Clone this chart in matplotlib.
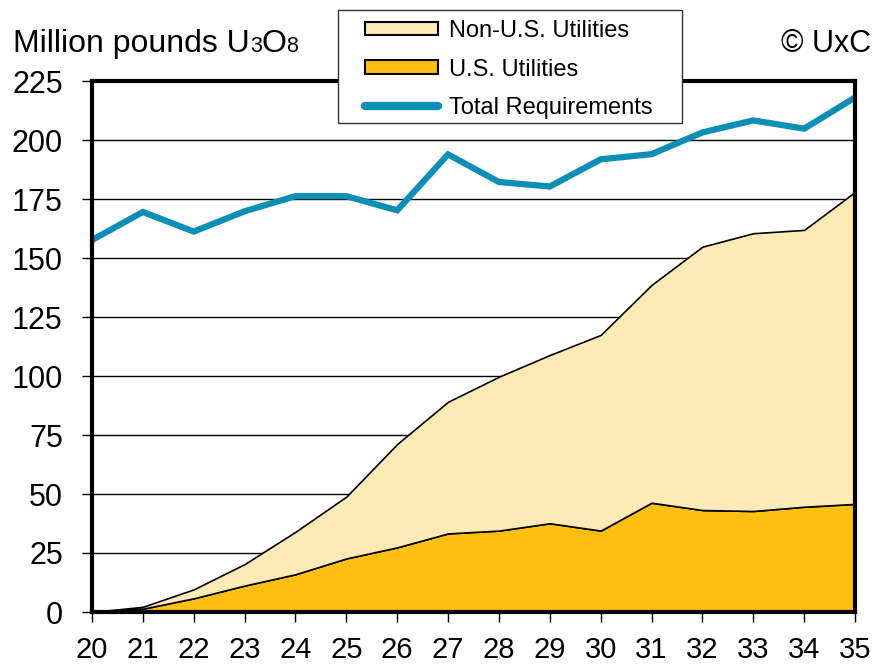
import matplotlib
matplotlib.use("Agg")
import matplotlib.pyplot as plt
from matplotlib.patches import Patch, Rectangle
from matplotlib.lines import Line2D

plt.rcParams["font.family"] = ["Liberation Sans", "DejaVu Sans"]

# Data (years 2020-2035, million lb U3O8)
years = [20, 21, 22, 23, 24, 25, 26, 27, 28, 29, 30, 31, 32, 33, 34, 35]
us_utilities = [0, 1.4, 5.8, 11.2, 16.0, 22.7, 27.4, 33.3, 34.5, 37.6, 34.5, 46.3, 43.2, 42.8, 44.6, 45.8]
total_uncovered = [0, 2.2, 9.6, 20.3, 34.0, 48.9, 71.2, 89.1, 99.7, 108.9, 117.4, 138.6, 154.8, 160.5, 161.9, 178.0]
non_us_utilities = [t - u for t, u in zip(total_uncovered, us_utilities)]
total_requirements = [157.6, 169.5, 161.2, 169.8, 176.2, 176.2, 170.2, 193.9, 182.2, 180.3, 191.8, 194.0, 203.2, 208.3, 204.8, 218.0]
y_ticks = [0, 25, 50, 75, 100, 125, 150, 175, 200, 225]

gold = "#FDC010"
cream = "#FEEAB5"
blue = "#0C8FB6"

W, H = 877, 666
fig = plt.figure(figsize=(W / 100, H / 100), dpi=100)
ax = fig.add_axes([92 / W, 54 / H, 763 / W, 531 / H])

ax.stackplot(years, us_utilities, non_us_utilities, colors=[gold, cream],
             edgecolor="black", linewidth=1.2, zorder=2)
ax.plot(years, total_requirements, color=blue, linewidth=4.5, zorder=3,
        solid_joinstyle="miter")

ax.set_xlim(20, 35)
ax.set_ylim(0, 225)
ax.set_xticks(years)
ax.set_yticks(y_ticks)
ax.grid(axis="y", color="black", linewidth=1.0)
ax.set_axisbelow(True)
ax.tick_params(axis="y", direction="out", length=7, width=1, pad=14, labelsize=22)
ax.tick_params(axis="x", direction="out", length=7, width=1, pad=10, labelsize=21)
for side in ["left", "right", "bottom", "top"]:
    ax.spines[side].set_linewidth(3)
    ax.spines[side].set_color("black")
    ax.spines[side].set_zorder(4)

# Legend box (drawn separately: wide side padding, narrow top/bottom)
frame = Rectangle((338 / W, 1 - 123 / H), 344 / W, 113 / H, transform=fig.transFigure,
                  facecolor="white", edgecolor="#333333", linewidth=1.0, zorder=9)
fig.add_artist(frame)

handles = [
    Patch(facecolor=cream, edgecolor="black", linewidth=1.5),
    Patch(facecolor=gold, edgecolor="black", linewidth=1.5),
    Line2D([0], [0], color=blue, linewidth=6, solid_capstyle="round"),
]
labels = ["Non-U.S. Utilities", "U.S. Utilities", "Total Requirements"]
leg = fig.legend(handles, labels, loc="upper left", bbox_to_anchor=(365 / W, 1 - 20 / H),
                 fontsize=17, handlelength=3.1, handleheight=0.5, handletextpad=0.45,
                 labelspacing=0.7, borderpad=0, borderaxespad=0, frameon=False)
leg.set_zorder(10)

# Unit label with small 3 and 8
base_y = 1 - 52 / H
t1 = fig.text(13 / W, base_y, "Million pounds U", fontsize=23, va="baseline", ha="left")
t2 = fig.text(0, base_y, "3", fontsize=15.5, va="baseline", ha="left")
t3 = fig.text(0, base_y, "O", fontsize=23, va="baseline", ha="left")
t4 = fig.text(0, base_y, "8", fontsize=15.5, va="baseline", ha="left")
fig.canvas.draw()
renderer = fig.canvas.get_renderer()
prev = t1
for t in [t2, t3, t4]:
    bb = prev.get_window_extent(renderer)
    t.set_x(bb.x1 / fig.bbox.width)
    fig.canvas.draw()
    prev = t

fig.text(871 / W, base_y, "\u00a9 UxC", fontsize=22, va="baseline", ha="right")

fig.savefig("out.png", dpi=100)
